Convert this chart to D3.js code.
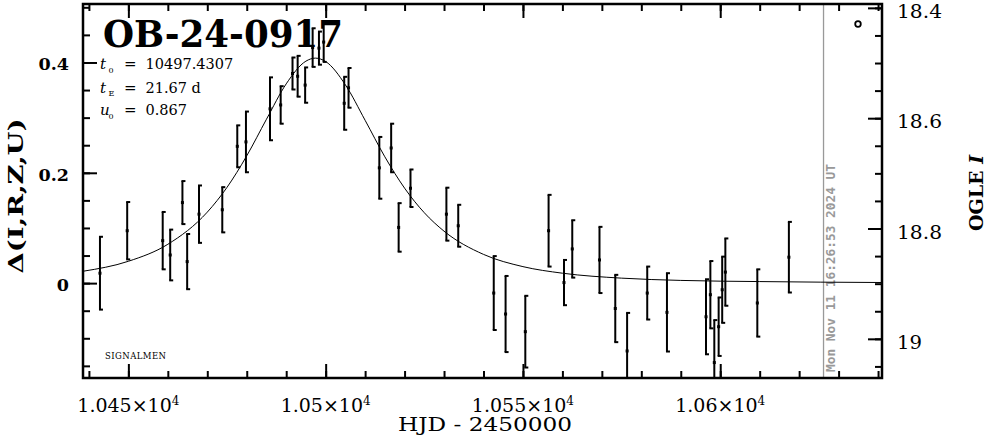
<!DOCTYPE html>
<html>
<head>
<meta charset="utf-8">
<script src="https://cdn.jsdelivr.net/npm/d3@7"></script>
<style>
  html, body { margin: 0; padding: 0; background: #fff; }
  svg { display: block; }
</style>
</head>
<body>
<svg id="chart" width="986" height="436"></svg>
<script>
// ---- data ----
const hjd = [10442.8, 10449.7, 10458.7, 10460.6, 10463.7, 10464.9, 10467.9, 10473.8, 10477.6, 10479.8,
             10485.9, 10488.6, 10491.6, 10492.9, 10494.8, 10496.7, 10498.3, 10499.5, 10504.7, 10505.8,
             10513.6, 10516.6, 10518.5, 10521.5, 10530.6, 10533.6, 10542.6, 10545.6, 10550.6, 10556.5,
             10560.4, 10562.5, 10569.4, 10573.4, 10576.4, 10581.5, 10586.5, 10596.4, 10597.5, 10598.5,
             10599.6, 10600.5, 10601.3, 10609.4, 10617.4];
const delta = [0.018, 0.095, 0.077, 0.051, 0.146, 0.039, 0.125, 0.133, 0.248, 0.256,
               0.316, 0.323, 0.380, 0.375, 0.359, 0.427, 0.426, 0.437, 0.326, 0.354,
               0.209, 0.245, 0.101, 0.172, 0.125, 0.104, -0.018, -0.056, -0.088, 0.095,
               0.001, 0.062, 0.042, -0.046, -0.123, -0.018, -0.053, -0.061, -0.021, -0.144,
               -0.079, -0.012, 0.020, -0.036, 0.047];
const err = [0.066, 0.052, 0.052, 0.046, 0.039, 0.050, 0.052, 0.041, 0.038, 0.055,
             0.057, 0.034, 0.029, 0.037, 0.032, 0.035, 0.030, 0.036, 0.048, 0.036,
             0.056, 0.044, 0.044, 0.034, 0.048, 0.038, 0.067, 0.069, 0.065, 0.065,
             0.041, 0.052, 0.060, 0.061, 0.069, 0.048, 0.071, 0.068, 0.061, 0.077,
             0.053, 0.060, 0.061, 0.061, 0.064];

// model curve
const modelT = [10438.5, 10450, 10460, 10470, 10475, 10480, 10485, 10490, 10495, 10497.4,
                10500, 10505, 10510, 10515, 10520, 10525, 10530, 10540, 10550, 10560,
                10575, 10590, 10610, 10641];
const modelD = [0.0215, 0.0396, 0.0704, 0.1287, 0.1736, 0.2308, 0.2971, 0.3612, 0.4024, 0.4079,
                0.4017, 0.3595, 0.2952, 0.2290, 0.1722, 0.1276, 0.0942, 0.0521, 0.0299, 0.0180,
                0.0090, 0.0049, 0.0028, 0.0011];

// axes ticks and labels
const xMajor = [10450, 10500, 10550, 10600];
const xMajorLabels = ["1.045", "1.05", "1.055", "1.06"];
const xExponent = "4";
const xMinor = d3.range(10440, 10641, 10);
const yMajor = [0, 0.2, 0.4];
const yMajorLabels = ["0", "0.2", "0.4"];
const yMinor = d3.range(-0.15, 0.501, 0.05);
const magMajor = [18.4, 18.6, 18.8, 19];
const magLabels = ["18.4", "18.6", "18.8", "19"];
const magMinor = d3.range(18.4, 19.06, 0.05);

const title = "OB-24-0917";
const params = [["t", "0", "10497.4307"], ["t", "E", "21.67 d"], ["u", "0", "0.867"]];
const nowHJD = 10626.18;
const stamp = "Mon Nov 11 16:26:53 2024 UT";

// ---- layout ----
const L = 83, R = 882, T = 4, B = 378;
const x = d3.scaleLinear().domain([10438.5, 10641.0]).range([L, R]);
const y = d3.scaleLinear().domain([-0.172, 0.506]).range([B, T]);
const ym = d3.scaleLinear().domain([19.071, 18.393]).range([B, T]);

const svg = d3.select("#chart");
const serif = "'DejaVu Serif', serif";

svg.append("defs").append("clipPath").attr("id", "clip")
  .append("rect").attr("x", L).attr("y", T).attr("width", R - L).attr("height", B - T);

// now line
svg.append("line").attr("x1", x(nowHJD)).attr("x2", x(nowHJD)).attr("y1", T).attr("y2", B)
  .attr("stroke", "#999").attr("stroke-width", 1.3);

// date stamp
svg.append("text").attr("transform", `translate(${x(nowHJD) + 11},372) rotate(-90)`)
  .attr("font-family", "'DejaVu Sans Mono', monospace").attr("font-weight", "bold")
  .attr("font-size", 11.5).attr("fill", "#999")
  .attr("textLength", 208).attr("lengthAdjust", "spacingAndGlyphs")
  .text(stamp);

// ticks through d3 axes
function tickAxis(gen, scale, vals, size, tx, ty) {
  const g = svg.append("g").attr("transform", `translate(${tx},${ty})`)
    .call(gen(scale).tickValues(vals).tickSizeInner(size).tickSizeOuter(0).tickFormat(""));
  g.select(".domain").remove();
  g.selectAll(".tick line").attr("stroke", "#000").attr("stroke-width", 2);
  return g;
}
tickAxis(d3.axisBottom, x, xMinor, -7, 0, B);
tickAxis(d3.axisBottom, x, xMajor, -14, 0, B);
tickAxis(d3.axisTop, x, xMinor, -7, 0, T);
tickAxis(d3.axisTop, x, xMajor, -14, 0, T);
tickAxis(d3.axisLeft, y, yMinor, -7, L, 0);
tickAxis(d3.axisLeft, y, yMajor, -14, L, 0);
tickAxis(d3.axisRight, ym, magMinor, -7, R, 0);
tickAxis(d3.axisRight, ym, magMajor, -14, R, 0);

// frame
svg.append("rect").attr("x", L).attr("y", T).attr("width", R - L).attr("height", B - T)
  .attr("fill", "none").attr("stroke", "#000").attr("stroke-width", 2.5);

// tick labels
yMajor.forEach((v, i) => {
  svg.append("text").attr("x", 69).attr("y", y(v) + 8).attr("text-anchor", "end")
    .attr("font-family", serif).attr("font-weight", "bold").attr("font-size", 17.5)
    .text(yMajorLabels[i]);
});
magMajor.forEach((v, i) => {
  svg.append("text").attr("x", 897).attr("y", ym(v) + 10).attr("text-anchor", "start")
    .attr("font-family", serif).attr("font-size", 19)
    .attr("textLength", magLabels[i].length > 2 ? 45 : 25).attr("lengthAdjust", "spacingAndGlyphs")
    .text(magLabels[i]);
});
xMajor.forEach((v, i) => {
  const t = svg.append("text").attr("x", x(v)).attr("y", 412).attr("text-anchor", "middle")
    .attr("font-family", serif).attr("font-size", 19);
  t.append("tspan").text(xMajorLabels[i] + "×10");
  t.append("tspan").attr("dy", -7).attr("font-size", 12).text(xExponent);
});

// axis titles
svg.append("text").attr("x", 485).attr("y", 430.5).attr("text-anchor", "middle")
  .attr("font-family", serif).attr("font-size", 18.5)
  .attr("textLength", 174).attr("lengthAdjust", "spacingAndGlyphs")
  .text("HJD - 2450000");
svg.append("text").attr("transform", "translate(23,196) rotate(-90)").attr("text-anchor", "middle")
  .attr("font-family", serif).attr("font-weight", "bold").attr("font-size", 20)
  .attr("textLength", 155).attr("lengthAdjust", "spacingAndGlyphs")
  .text("Δ(I,R,Z,U)");
const ol = svg.append("text").attr("transform", "translate(983,193) rotate(-90)").attr("text-anchor", "middle")
  .attr("font-family", serif).attr("font-weight", "bold").attr("font-size", 19);
ol.append("tspan").text("OGLE ");
ol.append("tspan").attr("font-style", "italic").text("I");

// title and parameters
svg.append("text").attr("x", 103).attr("y", 46.5)
  .attr("font-family", serif).attr("font-weight", "bold").attr("font-size", 38)
  .attr("textLength", 240).attr("lengthAdjust", "spacingAndGlyphs")
  .text(title);
const rowY = [69, 92.5, 115];
params.forEach((p, i) => {
  svg.append("text").attr("x", 100).attr("y", rowY[i]).attr("font-family", serif)
    .attr("font-style", "italic").attr("font-size", 15).text(p[0]);
  svg.append("text").attr("x", 108.5).attr("y", rowY[i] + 3.5).attr("font-family", serif)
    .attr("font-size", 8).text(p[1]);
  svg.append("text").attr("x", 124).attr("y", rowY[i]).attr("font-family", serif)
    .attr("font-size", 15).text("=");
  svg.append("text").attr("x", 145.5).attr("y", rowY[i]).attr("font-family", serif)
    .attr("font-size", 14.5).text(p[2]);
});
svg.append("text").attr("x", 105).attr("y", 359).attr("font-family", serif)
  .attr("font-size", 8.5).attr("textLength", 61).text("SIGNALMEN");

// OGLE symbol
svg.append("circle").attr("cx", 858).attr("cy", 24).attr("r", 2.8)
  .attr("fill", "none").attr("stroke", "#000").attr("stroke-width", 1.8);

// data
const plot = svg.append("g").attr("clip-path", "url(#clip)");
plot.append("path").datum(modelT.map((t, i) => [t, modelD[i]]))
  .attr("fill", "none").attr("stroke", "#000").attr("stroke-width", 1)
  .attr("d", d3.line().x(d => x(d[0])).y(d => y(d[1])).curve(d3.curveMonotoneX));

const pts = hjd.map((t, i) => ({ t, d: delta[i], e: err[i] }));
const eb = plot.selectAll("g.eb").data(pts).join("g").attr("class", "eb");
eb.append("line").attr("x1", d => x(d.t)).attr("x2", d => x(d.t))
  .attr("y1", d => y(d.d + d.e)).attr("y2", d => y(d.d - d.e))
  .attr("stroke", "#000").attr("stroke-width", 2);
eb.append("line").attr("x1", d => x(d.t) - 1).attr("x2", d => x(d.t) + 3)
  .attr("y1", d => y(d.d + d.e)).attr("y2", d => y(d.d + d.e))
  .attr("stroke", "#000").attr("stroke-width", 2);
eb.append("line").attr("x1", d => x(d.t) - 1).attr("x2", d => x(d.t) + 3)
  .attr("y1", d => y(d.d - d.e)).attr("y2", d => y(d.d - d.e))
  .attr("stroke", "#000").attr("stroke-width", 2);
eb.append("rect").attr("x", d => x(d.t) - 1.5).attr("y", d => y(d.d) - 1.5)
  .attr("width", 3).attr("height", 3).attr("fill", "#000");
</script>
</body>
</html>
